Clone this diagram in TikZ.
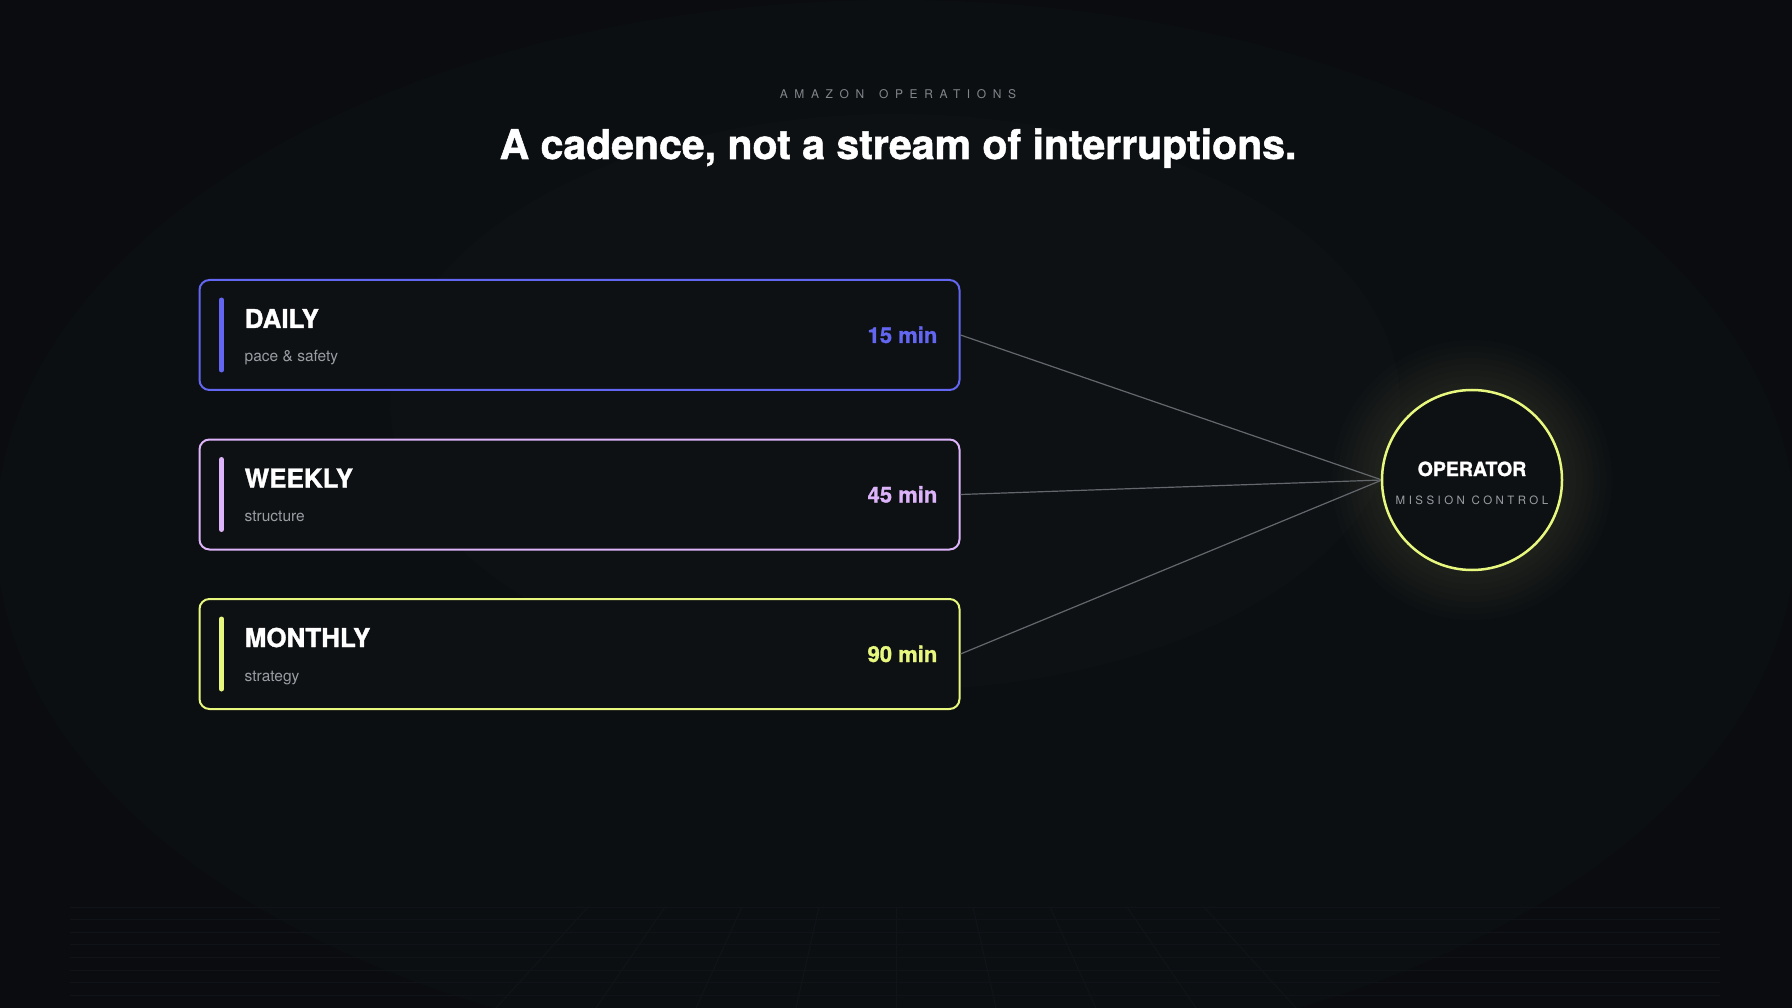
\documentclass[tikz,border=0pt]{standalone}
\usepackage{fontspec}
\setmainfont{TeX Gyre Heros}[BoldFeatures={FakeBold=1.3}]
\newfontfamily\trackedfont[LetterSpace=30]{TeX Gyre Heros}
\newfontfamily\kickerfont[LetterSpace=55]{TeX Gyre Heros}
\usepackage{tikz}
\usetikzlibrary{positioning}
\usetikzlibrary{calc}
\definecolor{PageBg}{HTML}{0A0C0F}
\definecolor{HaloBg}{HTML}{0C0F12}
\definecolor{CoreBg}{HTML}{0E1114}
\definecolor{CardBg}{HTML}{0E1114}
\definecolor{GridLine}{HTML}{101418}
\definecolor{Daily}{HTML}{6366F1}
\definecolor{Weekly}{HTML}{DDB4FA}
\definecolor{Monthly}{HTML}{E8F87E}
\definecolor{SubGray}{HTML}{9A9EA3}
\definecolor{LinkGray}{HTML}{64676C}

\begin{document}
\begin{tikzpicture}[x=1pt, y=-1pt,
 card/.style = {draw, rectangle, rounded corners=10pt, line width=2pt, fill=CardBg,
                minimum width=760pt, minimum height=110pt},
 accent/.style = {line width=5pt, line cap=round},
 cardtitle/.style = {inner sep=0pt, text=white, font=\fontsize{26}{30}\selectfont\bfseries},
 cardsub/.style = {inner sep=0pt, text=SubGray, font=\fontsize{15.5}{18}\selectfont},
 cardtime/.style = {inner sep=0pt, font=\fontsize{22}{26}\selectfont\bfseries},
 hub/.style = {draw=Monthly, circle, line width=2.5pt, fill=CardBg, minimum size=180pt},
 link/.style = {draw=LinkGray, line width=1.2pt},
                        ]

    % background
    \fill [PageBg] (0,0) rectangle (1792,1008);
    \useasboundingbox (0,0) rectangle (1792,1008);
    \fill [HaloBg] (896,532) ellipse [x radius=900pt, y radius=532pt];
    \fill [CoreBg] (895,402) ellipse [x radius=505pt, y radius=288pt];
    \foreach \k in {0,...,7}
        \draw [GridLine, line width=1pt] (70,907+12.6*\k) -- (1720,907+12.6*\k);
    \foreach \k in {-4,...,4}
        \draw [GridLine, line width=1pt] (896+77*\k,907) -- (896+100*\k,1008);

    % heading
    \node [anchor=base, inner sep=0pt, text=SubGray!85!black, font=\fontsize{12}{14}\kickerfont] (kicker) at (898,99) {AMAZON\hspace{5pt} OPERATIONS};
    \node [anchor=base, inner sep=0pt, text=white, font=\fontsize{41}{48}\selectfont\bfseries] (headline) at (898,159) {A cadence, not a stream of interruptions.};

    % cards
    \node [card, draw=Daily] (daily) at (579.5,335) {};
    \node [card, draw=Weekly, below=47.5pt of daily] (weekly) {};
    \node [card, draw=Monthly, below=47.5pt of weekly] (monthly) {};

    \draw [accent, Daily] ([xshift=23pt, yshift=-21pt]daily.north west) -- ([xshift=23pt, yshift=21pt]daily.south west);
    \draw [accent, Weekly] ([xshift=23pt, yshift=-21pt]weekly.north west) -- ([xshift=23pt, yshift=21pt]weekly.south west);
    \draw [accent, Monthly] ([xshift=23pt, yshift=-21pt]monthly.north west) -- ([xshift=23pt, yshift=21pt]monthly.south west);

    \node [cardtitle, anchor=base west] (dailyTitle) at ([xshift=46pt, yshift=-49pt]daily.north west) {DAILY};
    \node [cardsub, anchor=base west] (dailySub) at ([yshift=-34pt]dailyTitle.base west) {pace \& safety};
    \node [cardtime, text=Daily, anchor=base east] (dailyTime) at ([xshift=-23pt, yshift=-64pt]daily.north east) {15 min};

    \node [cardtitle, anchor=base west] (weeklyTitle) at ([xshift=46pt, yshift=-49pt]weekly.north west) {WEEKLY};
    \node [cardsub, anchor=base west] (weeklySub) at ([yshift=-34pt]weeklyTitle.base west) {structure};
    \node [cardtime, text=Weekly, anchor=base east] (weeklyTime) at ([xshift=-23pt, yshift=-64pt]weekly.north east) {45 min};

    \node [cardtitle, anchor=base west] (monthlyTitle) at ([xshift=46pt, yshift=-49pt]monthly.north west) {MONTHLY};
    \node [cardsub, anchor=base west] (monthlySub) at ([yshift=-34pt]monthlyTitle.base west) {strategy};
    \node [cardtime, text=Monthly, anchor=base east] (monthlyTime) at ([xshift=-23pt, yshift=-64pt]monthly.north east) {90 min};

    % operator
    \coordinate (hubCenter) at (1472,480);
    \foreach \r in {140,134,...,92}
        \fill [Monthly, opacity=0.011] (hubCenter) circle (\r pt);
    \path (daily.east) edge [link] (1382,480)
          (weekly.east) edge [link] (1382,480)
          (monthly.east) edge [link] (1382,480);
    \node [hub] (operator) at (hubCenter) {};
    \node [anchor=base, inner sep=0pt, text=white, font=\fontsize{19.5}{22}\selectfont\bfseries] (operatorTitle) at ([yshift=4pt]operator.center) {OPERATOR};
    \node [anchor=base, inner sep=0pt, text=SubGray, font=\fontsize{11.5}{13}\trackedfont] (operatorSub) at ([yshift=-24pt]operator.center) {MISSION CONTROL};

\end{tikzpicture}
\end{document}
